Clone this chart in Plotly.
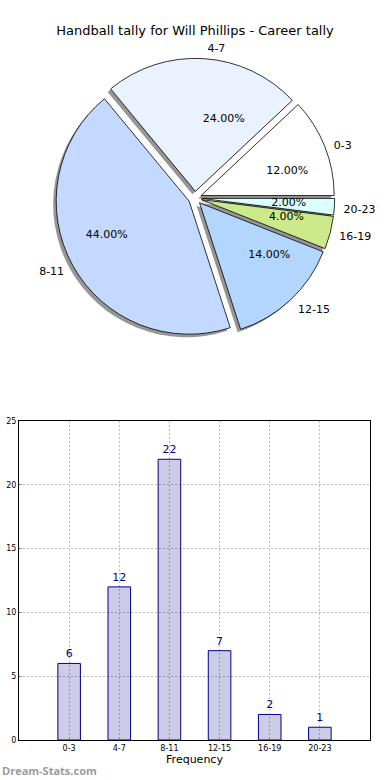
import plotly.graph_objects as go

# ---- data ----
categories = ["0-3", "4-7", "8-11", "12-15", "16-19", "20-23"]
counts = [6, 12, 22, 7, 2, 1]
pie_colors = ["#FFFFFF", "#EAF1FF", "#C4D9FF", "#B3D6FF", "#CDEA8B", "#D9FFFF"]
y_ticks = [0, 5, 10, 15, 20, 25]
title_text = "Handball tally for Will Phillips - Career tally"

W, H = 390, 780
FONT = "DejaVu Sans"

# pie geometry (pixels)
cx, cy, r, pull = 195, 198, 133, 0.05
offset = r * pull
# first slice starts at 3 o'clock, going counterclockwise
rot = 90 - 360 * counts[0] / sum(counts)


def dom(cx_, cy_, rad, pl):
    half = rad * (1 + pl)
    return dict(x=[(cx_ - half) / W, (cx_ + half) / W],
                y=[(H - cy_ - half) / H, (H - cy_ + half) / H])


fig = go.Figure()
common = dict(labels=categories, values=counts, sort=False,
              direction="counterclockwise", rotation=rot)
clear = ["rgba(0,0,0,0)"] * len(counts)

# shadow
fig.add_trace(go.Pie(
    **common, pull=[pull] * len(counts), domain=dom(cx - 3, cy + 3, r, pull),
    marker=dict(colors=["rgba(80,80,80,0.6)"] * len(counts), line=dict(width=0)),
    textinfo="none", hoverinfo="skip", showlegend=False,
))
# main pie
fig.add_trace(go.Pie(
    **common, pull=[pull] * len(counts), domain=dom(cx, cy, r, pull),
    marker=dict(colors=pie_colors, line=dict(color="black", width=0.8)),
    textinfo="none", showlegend=False,
))
# percentages (placed around an inner, invisible ring)
r_pct = 0.5 * r
fig.add_trace(go.Pie(
    **common, pull=[offset / r_pct] * len(counts),
    domain=dom(cx, cy, r_pct, offset / r_pct),
    marker=dict(colors=clear, line=dict(width=0)),
    texttemplate="%{percent:.2%}", textposition="outside",
    outsidetextfont=dict(family=FONT, size=11, color="black"),
    hoverinfo="skip", showlegend=False,
))
# category labels (placed around an outer, invisible ring)
r_lab = r + 6
fig.add_trace(go.Pie(
    **common, pull=[offset / r_lab] * len(counts),
    domain=dom(cx, cy + 2, r_lab, offset / r_lab),
    marker=dict(colors=clear, line=dict(width=0)),
    textinfo="label", textposition="outside",
    outsidetextfont=dict(family=FONT, size=11, color="black"),
    hoverinfo="skip", showlegend=False,
))

# bar chart (translucent fill so the dotted grid shows through, as in the original)
fig.add_trace(go.Bar(
    x=list(range(len(categories))), y=counts, width=0.45,
    marker=dict(color="rgba(0,0,128,0.2)", line=dict(color="#00008B", width=1)),
    text=[str(c) for c in counts], textposition="outside",
    textfont=dict(family=FONT, size=11, color="#00008B"),
    cliponaxis=False, showlegend=False, xaxis="x", yaxis="y",
))

grid = dict(showgrid=True, gridcolor="#BBBBBB", griddash="2px,2px", gridwidth=1)

fig.update_layout(
    width=W, height=H,
    margin=dict(l=0, r=0, t=0, b=0, autoexpand=False),
    paper_bgcolor="white", plot_bgcolor="white",
    font=dict(family=FONT, color="black"),
    title=dict(text=title_text, x=0.5, xanchor="center", y=1 - 30 / H, yanchor="middle",
               font=dict(family=FONT, size=13, color="black")),
    xaxis=dict(domain=[19 / W, 370 / W], range=[-1, 6], automargin=False,
               tickmode="array", tickvals=list(range(len(categories))), ticktext=categories,
               tickfont=dict(family=FONT, size=8, color="black"),
               showline=True, mirror=True, linecolor="black", linewidth=1, **grid,
               ticks="inside", ticklen=3, tickcolor="#888",
               title=dict(text="Frequency", font=dict(family=FONT, size=11), standoff=2),
               zeroline=False, anchor="y", fixedrange=True),
    yaxis=dict(domain=[40 / H, 359 / H], range=[0, 25], automargin=False,
               tickmode="array", tickvals=y_ticks,
               tickfont=dict(family=FONT, size=8, color="black"),
               showline=True, mirror=True, linecolor="black", linewidth=1, **grid,
               ticks="inside", ticklen=3, tickcolor="#888",
               zeroline=False, anchor="x", fixedrange=True),
    annotations=[dict(text="<b>Dream-Stats.com</b>", x=0, y=(H - 770) / H,
                      xref="paper", yref="paper",
                      xanchor="left", yanchor="middle", showarrow=False,
                      font=dict(family="Open Sans", size=11, color="#9A9A9A"))],
)

fig.write_html("out.html", config={"displayModeBar": False},
               post_script="document.body.style.margin='0';document.body.style.overflow='hidden';")
